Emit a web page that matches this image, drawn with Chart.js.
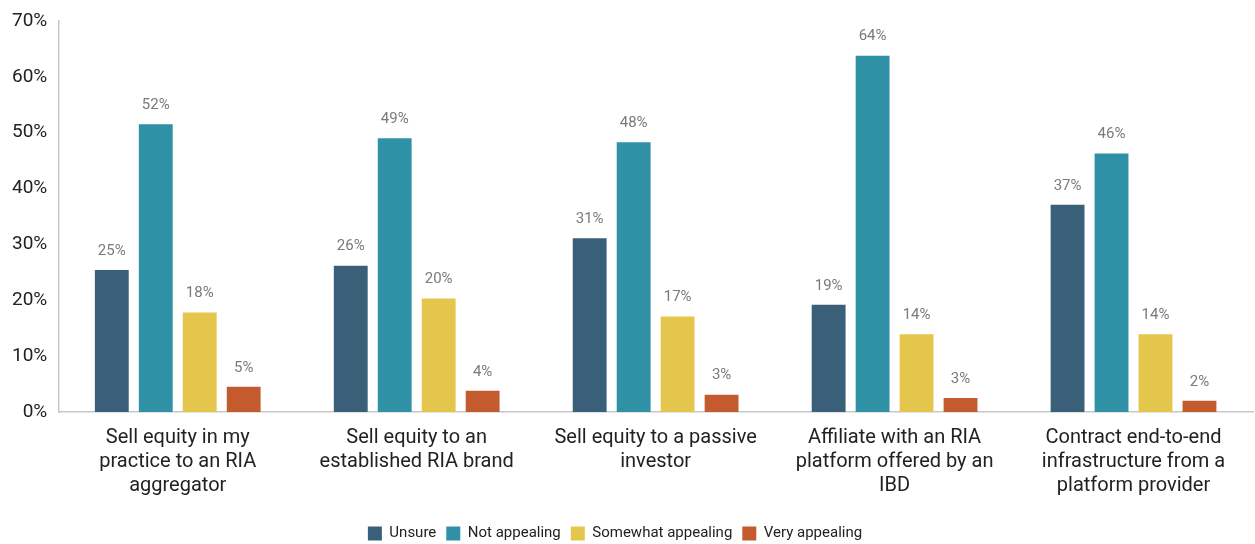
<!DOCTYPE html>
<html>
<head>
<meta charset="utf-8">
<script src="https://cdn.jsdelivr.net/npm/chart.js@4"></script>
<style>
  html, body { margin: 0; padding: 0; background: #fff; }
  #wrap { width: 1255px; height: 544px; position: relative; }
</style>
</head>
<body>
<div id="wrap"><canvas id="c"></canvas></div>
<script>
const categories = [
  ["Sell equity in my", "practice to an RIA", "aggregator"],
  ["Sell equity to an", "established RIA brand"],
  ["Sell equity to a passive", "investor"],
  ["Affiliate with an RIA", "platform offered by an", "IBD"],
  ["Contract end-to-end", "infrastructure from a", "platform provider"]
];
const seriesNames = ["Unsure", "Not appealing", "Somewhat appealing", "Very appealing"];
const unsure = [25.4, 26.2, 31.1, 19.2, 37.1];
const notAppealing = [51.5, 49.0, 48.3, 63.8, 46.3];
const somewhatAppealing = [17.8, 20.3, 17.1, 13.9, 13.9];
const veryAppealing = [4.5, 3.8, 3.1, 2.5, 2.0];
const yTicks = [0, 10, 20, 30, 40, 50, 60, 70];
const colors = ["#395f79", "#2e91a6", "#e5c64d", "#c35b2e"];

const seriesValues = [unsure, notAppealing, somewhatAppealing, veryAppealing];

const mainFont = 'Roboto, "Liberation Sans", sans-serif';

const dataLabels = {
  id: 'dataLabels',
  afterDatasetsDraw(chart) {
    const ctx = chart.ctx;
    ctx.save();
    ctx.font = '15px ' + mainFont;
    ctx.fillStyle = '#7a7a7a';
    ctx.textAlign = 'center';
    ctx.textBaseline = 'middle';
    chart.data.datasets.forEach((ds, i) => {
      const meta = chart.getDatasetMeta(i);
      meta.data.forEach((bar, j) => {
        ctx.fillText(Math.round(ds.data[j]) + '%', bar.x, bar.y - 19);
      });
    });
    ctx.restore();
  }
};

const legendShift = {
  id: 'legendShift',
  afterLayout(chart) {
    if (chart.legend) {
      chart.legend.left -= 16;
      chart.legend.right -= 16;
    }
  }
};

new Chart(document.getElementById('c'), {
  type: 'bar',
  data: {
    labels: categories,
    datasets: seriesNames.map((name, i) => ({
      label: name,
      data: seriesValues[i],
      backgroundColor: colors[i],
      borderWidth: 0,
      barPercentage: 0.77,
      categoryPercentage: 0.736
    }))
  },
  options: {
    responsive: true,
    maintainAspectRatio: false,
    animation: false,
    layout: { padding: { left: 9, right: 2, top: 21, bottom: -7 } },
    plugins: {
      legend: {
        position: 'bottom',
        labels: {
          font: { family: mainFont, size: 15 },
          color: '#222',
          boxWidth: 14,
          boxHeight: 14,
          padding: 10
        }
      },
      tooltip: { enabled: false }
    },
    scales: {
      x: {
        grid: { display: false },
        border: { color: '#c8c8c8', width: 1.5 },
        afterFit(scale) { scale.height += 12; },
        ticks: {
          font: { family: mainFont, size: 20, lineHeight: 1.2 },
          color: '#222',
          maxRotation: 0,
          autoSkip: false,
          padding: 6
        }
      },
      y: {
        min: 0,
        max: 70,
        grid: { display: false },
        border: { color: '#c8c8c8', width: 1.5 },
        afterBuildTicks(axis) { axis.ticks = yTicks.map(v => ({ value: v })); },
        ticks: {
          font: { family: mainFont, size: 19 },
          color: '#222',
          padding: 3,
          callback: v => v + '%'
        }
      }
    }
  },
  plugins: [dataLabels, legendShift]
});
</script>
</body>
</html>
